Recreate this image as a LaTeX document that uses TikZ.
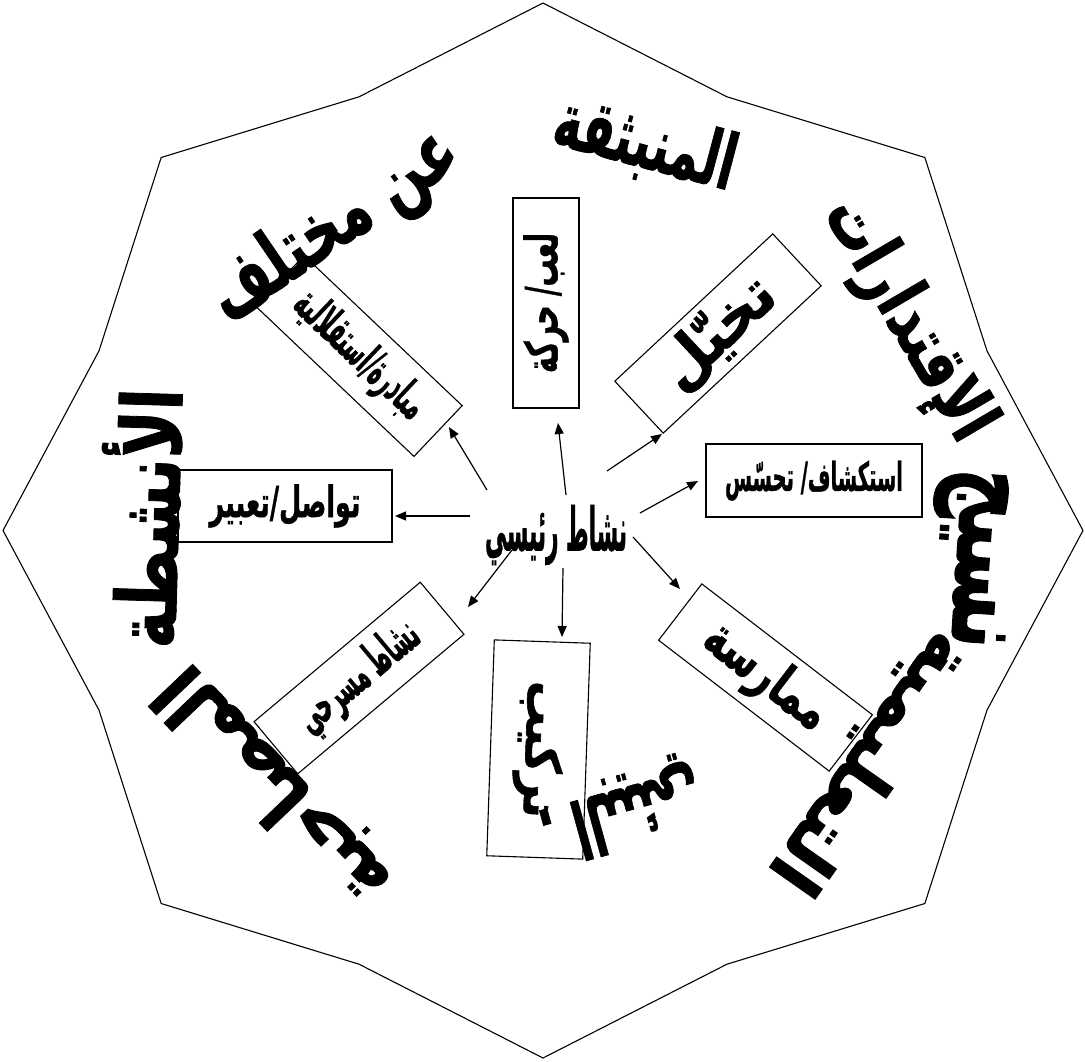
\documentclass[tikz,border=0pt]{standalone}
\usepackage{fontspec}
\usepackage{graphicx}
\usetikzlibrary{arrows.meta}
\TeXXeTstate=1
\newfontfamily\arfont[Script=Arabic,BoldFeatures={FakeBold=1.2}]{DejaVu Sans}
\newcommand{\artxt}[3]{\resizebox*{#1pt}{#2pt}{\arfont\bfseries #3}}
\begin{document}
\begin{tikzpicture}[x=1pt,y=-1pt,
  box/.style={draw,line width=1.1pt,inner sep=0pt},
  arr/.style={line width=1.2pt,-{Triangle[length=11pt,width=9pt]}},
  word/.style={inner sep=0pt}]
\fill[white] (0,0) rectangle (1085,1061);
\useasboundingbox (0,0) rectangle (1085,1061);
% star outline
\draw[line width=1.1pt] (1083,530.5)
  \foreach \k in {1,...,15}{
    -- ({543+540*(1-0.11*mod(\k,2))*cos(22.5*\k)},{530.5-527.5*(1-0.11*mod(\k,2))*sin(22.5*\k)})
  } -- cycle;
% outer words
\node[word,rotate=-93.75] (w1) at (970,558) {\artxt{180}{80}{\beginR نسيج\endR}};
\node[word,rotate=-59.6] (w2) at (907,320) {\artxt{270}{72}{\beginR الإقتدارات\endR}};
\node[word,rotate=-14.8] (w3) at (645,145) {\artxt{185}{72}{\beginR المنبثقة\endR}};
\node[word,rotate=34.3] (w4) at (335,227) {\artxt{285}{80}{\beginR عن مختلف\endR}};
\node[word,rotate=88.3] (w5) at (140,518) {\artxt{260}{80}{\beginR الأنشطة\endR}};
\node[word,rotate=133.6] (w6) at (275,785) {\artxt{300}{75}{\beginR المصاحبة\endR}};
\node[word,rotate=-164.6] (w7) at (620,810) {\artxt{165}{80}{\beginR البيئي\endR\ .}};
\node[word,rotate=-125.1] (w8) at (870,762) {\artxt{300}{68}{\beginR التعليمية\endR}};
% centre
\node[inner sep=0pt] (c) at (556,535) {\artxt{142}{60}{\beginR نشاط رئيسي\endR}};
% boxes
\node[box,minimum width=210pt,minimum height=66pt,rotate=90] (b1) at (546,303) {\artxt{140}{45}{\beginR لعب/ حركة\endR}};
\node[box,minimum width=216pt,minimum height=71pt,rotate=43] (b2) at (718,333.5) {\artxt{137}{58}{\beginR تخيّل\endR}};
\node[box,minimum width=216pt,minimum height=73pt] (b3) at (814,480.5) {\artxt{178}{40}{\beginR استكشاف/ تحسّس\endR}};
\node[box,minimum width=215pt,minimum height=71pt,rotate=-37.5] (b4) at (765.5,677.5) {\artxt{144}{55}{\beginR ممارسة\endR}};
\node[box,minimum width=216pt,minimum height=96pt,rotate=-92] (b5) at (538.5,749.5) {\artxt{137}{50}{\beginR تركيب\endR}};
\node[box,minimum width=217pt,minimum height=68pt,rotate=40] (b6) at (359,678) {\artxt{147}{48}{\beginR نشاط مسرحي\endR}};
\node[box,minimum width=214pt,minimum height=72pt] (b7) at (285,506) {\artxt{151}{43}{\beginR تواصل/تعبير\endR}};
\node[box,minimum width=218pt,minimum height=70pt,rotate=-43.5] (b8) at (359,356) {\artxt{166}{45}{\beginR مبادرة/استقلالية\endR}};
% arrow ends
\coordinate (s1) at (566,495); \coordinate (t1) at (558,423);
\coordinate (s2) at (607,471); \coordinate (t2) at (662,434);
\coordinate (s3) at (640,513); \coordinate (t3) at (698,481);
\coordinate (s4) at (633,537); \coordinate (t4) at (680,589);
\coordinate (s5) at (563,568); \coordinate (t5) at (562,637);
\coordinate (s6) at (512,550); \coordinate (t6) at (468,607);
\coordinate (s7) at (470,516); \coordinate (t7) at (395,516);
\coordinate (s8) at (487,490); \coordinate (t8) at (449,427);
\foreach \i in {1,...,8} \draw[arr] (s\i) -- (t\i);
\end{tikzpicture}
\end{document}
